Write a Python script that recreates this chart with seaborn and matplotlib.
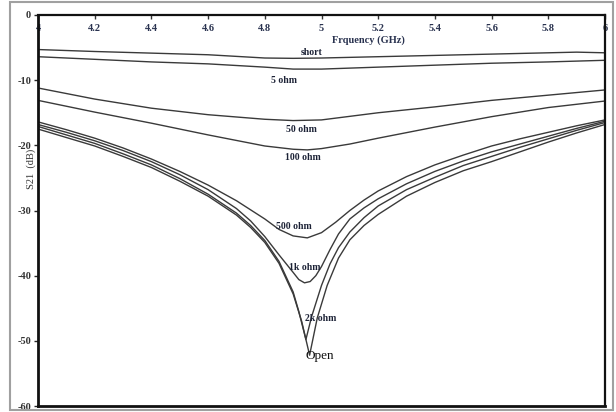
import matplotlib
matplotlib.use("Agg")
import matplotlib.pyplot as plt
from matplotlib.patches import Rectangle
import pandas as pd
import seaborn as sns

# Measured transmission |S21| (dB) versus frequency (GHz) for each termination load
freq_short = [4.0, 4.2, 4.4, 4.6, 4.8, 4.9, 5.0, 5.2, 5.4, 5.6, 5.8, 5.9, 6.0]
s21_short = [-5.3, -5.6, -5.85, -6.1, -6.6, -6.65, -6.6, -6.4, -6.2, -6.0, -5.8, -5.7, -5.8]

freq_5 = [4.0, 4.2, 4.4, 4.6, 4.8, 4.9, 5.0, 5.2, 5.4, 5.6, 5.8, 6.0]
s21_5 = [-6.4, -6.8, -7.2, -7.5, -8.0, -8.3, -8.3, -8.0, -7.7, -7.4, -7.2, -6.95]

freq_50 = [4.0, 4.2, 4.4, 4.6, 4.8, 4.9, 5.0, 5.2, 5.4, 5.6, 5.8, 6.0]
s21_50 = [-11.2, -12.9, -14.3, -15.3, -16.0, -16.2, -16.1, -15.0, -14.1, -13.1, -12.3, -11.5]

freq_100 = [4.0, 4.2, 4.4, 4.6, 4.8, 4.9, 4.95, 5.0, 5.1, 5.2, 5.4, 5.6, 5.8, 6.0]
s21_100 = [-13.1, -14.9, -16.6, -18.4, -20.1, -20.6, -20.7, -20.5, -19.8, -18.9, -17.2, -15.6, -14.2, -13.2]

freq_500 = [4.0, 4.1, 4.2, 4.3, 4.4, 4.5, 4.6, 4.7, 4.8, 4.85, 4.9, 4.95, 5.0, 5.05,
            5.1, 5.15, 5.2, 5.3, 5.4, 5.5, 5.6, 5.7, 5.8, 5.9, 6.0]
s21_500 = [-16.4, -17.6, -18.9, -20.4, -22.1, -24.0, -26.1, -28.5, -31.3, -32.9, -33.9, -34.2,
           -33.4, -31.8, -30.0, -28.4, -27.0, -24.8, -23.0, -21.5, -20.1, -19.0, -18.0, -17.0, -16.1]

freq_1k = [4.0, 4.1, 4.2, 4.3, 4.4, 4.5, 4.6, 4.7, 4.75, 4.8, 4.85, 4.9, 4.92, 4.94, 4.96,
           4.98, 5.0, 5.03, 5.06, 5.1, 5.15, 5.2, 5.3, 5.4, 5.5, 5.6, 5.7, 5.8, 5.9, 6.0]
s21_1k = [-16.8, -18.0, -19.3, -20.8, -22.5, -24.5, -26.8, -29.7, -31.6, -34.0, -36.8, -39.5,
          -40.6, -41.1, -40.9, -40.0, -38.6, -36.0, -33.6, -31.3, -29.6, -28.2, -25.9, -24.0,
          -22.4, -21.0, -19.8, -18.6, -17.4, -16.3]

freq_2k = [4.0, 4.1, 4.2, 4.3, 4.4, 4.5, 4.6, 4.7, 4.75, 4.8, 4.85, 4.9, 4.92, 4.945, 4.965,
           5.0, 5.03, 5.06, 5.1, 5.15, 5.2, 5.3, 5.4, 5.5, 5.6, 5.7, 5.8, 5.9, 6.0]
s21_2k = [-17.1, -18.4, -19.7, -21.3, -23.0, -25.1, -27.5, -30.4, -32.3, -34.6, -37.8, -42.5,
          -45.5, -49.8, -46.3, -41.5, -38.2, -35.7, -33.3, -31.1, -29.3, -26.8, -24.9, -23.1,
          -21.7, -20.3, -19.0, -17.7, -16.5]

freq_open = [4.0, 4.1, 4.2, 4.3, 4.4, 4.5, 4.6, 4.7, 4.75, 4.8, 4.85, 4.9, 4.93, 4.958,
             4.985, 5.02, 5.06, 5.1, 5.15, 5.2, 5.3, 5.4, 5.5, 5.6, 5.7, 5.8, 5.9, 6.0]
s21_open = [-17.5, -18.8, -20.1, -21.7, -23.4, -25.5, -27.8, -30.7, -32.6, -34.9, -38.1, -42.8,
            -47.0, -52.2, -46.5, -41.5, -37.3, -34.5, -32.3, -30.6, -27.8, -25.7, -23.9, -22.5,
            -21.0, -19.5, -18.1, -16.8]

loads = ["short", "5 ohm", "50 ohm", "100 ohm", "500 ohm", "1k ohm", "2k ohm", "Open"]
series = [(freq_short, s21_short), (freq_5, s21_5), (freq_50, s21_50), (freq_100, s21_100),
          (freq_500, s21_500), (freq_1k, s21_1k), (freq_2k, s21_2k), (freq_open, s21_open)]

# Curve annotations: (frequency, dB)
label_pos = {
    "short": (4.964, -5.7),
    "5 ohm": (4.868, -10.0),
    "50 ohm": (4.928, -17.5),
    "100 ohm": (4.935, -21.9),
    "500 ohm": (4.903, -32.4),
    "1k ohm": (4.942, -38.8),
    "2k ohm": (4.998, -46.6),
    "Open": (4.995, -52.3),
}

xticks = [4.0, 4.2, 4.4, 4.6, 4.8, 5.0, 5.2, 5.4, 5.6, 5.8, 6.0]
xtick_labels = ["4", "4.2", "4.4", "4.6", "4.8", "5", "5.2", "5.4", "5.6", "5.8", "6"]
yticks = [0, -10, -20, -30, -40, -50, -60]
ytick_labels = ["0", "-10", "-20", "-30", "-40", "-50", "-60"]

rows = []
for name, (f, s) in zip(loads, series):
    for fi, si in zip(f, s):
        rows.append({"load": name, "freq": fi, "s21": si})
df = pd.DataFrame(rows)

sns.set_style("white")
plt.rcParams["font.family"] = ["Liberation Serif", "DejaVu Serif"]
plt.rcParams["axes.unicode_minus"] = False

fig = plt.figure(figsize=(6.16, 4.12), dpi=100)
ax = fig.add_axes([38 / 616, 1 - 406 / 412, (605 - 38) / 616, (406 - 15) / 412])

sns.lineplot(data=df, x="freq", y="s21", hue="load", units="load", estimator=None,
             palette=["#3a3a3a"] * len(loads), legend=False, linewidth=1.0, ax=ax)

ax.set_xlim(4.0, 6.0)
ax.set_ylim(-60, 0)
ax.set_xlabel("")
ax.set_ylabel("")

text_col = "#1c2236"
ax.xaxis.tick_top()
ax.set_xticks(xticks)
ax.set_xticklabels(xtick_labels, fontsize=7.5, fontweight="bold", color="#2a3350")
ax.tick_params(axis="x", direction="in", length=3, width=1, pad=-13, colors="#333333")
for lbl in ax.get_xticklabels():
    lbl.set_color("#2a3350")
ax.set_yticks(yticks)
ax.set_yticklabels(ytick_labels, fontsize=7.5, fontweight="bold", color="#333333")
ax.tick_params(axis="y", direction="out", length=3, width=1, pad=2, left=True)

for side in ["left", "bottom"]:
    ax.spines[side].set_linewidth(2.0)
    ax.spines[side].set_color("#111111")
for side in ["top", "right"]:
    ax.spines[side].set_linewidth(1.6)
    ax.spines[side].set_color("#111111")
    ax.spines[side].set_visible(True)

ax.text(5.165, -3.8, "Frquency (GHz)", fontsize=7.5, fontweight="bold", color="#2a3350",
        ha="center", va="center")
ax.text(-0.012, 0.606, "S21  (dB)", transform=ax.transAxes, rotation=90, fontsize=7.5,
        color="#333333", ha="center", va="center")

for name in loads:
    x, y = label_pos[name]
    if name == "Open":
        ax.text(x, y, name, fontsize=9.5, color="#111111", ha="center", va="center")
    else:
        ax.text(x, y, name, fontsize=7, fontweight="bold", color=text_col,
                ha="center", va="center")

fig.patches.append(Rectangle((10 / 616, 2 / 412), 603 / 616, 408 / 412,
                             transform=fig.transFigure, fill=False,
                             edgecolor="#a0a0a0", linewidth=1.5))

fig.savefig("out.png", dpi=100, facecolor="white")
